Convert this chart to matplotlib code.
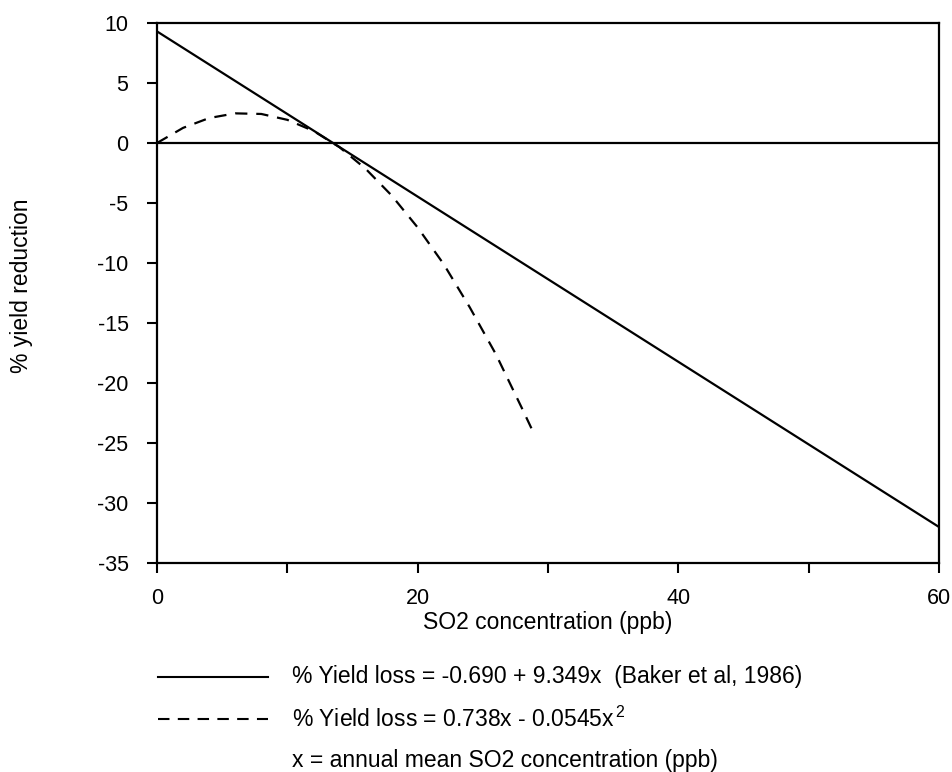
import numpy as np
import matplotlib.pyplot as plt
from matplotlib.lines import Line2D

plt.rcParams['font.family'] = ['Liberation Sans', 'DejaVu Sans']
plt.rcParams['mathtext.fontset'] = 'custom'
plt.rcParams['mathtext.rm'] = 'Liberation Sans'
plt.rcParams['axes.unicode_minus'] = False

# Baker et al (1986) linear relation, end points
x_linear = [0, 60]
y_linear = [9.3, -32.0]

# quadratic relation, points
x_quad = [0, 2, 4, 6, 8, 10, 12, 14, 16, 18, 20, 22, 24, 26, 28, 29]
y_quad = [0.0, 1.26, 2.08, 2.47, 2.42, 1.93, 1.01, -0.35, -2.14,
          -4.37, -7.04, -10.1, -13.7, -17.6, -22.1, -24.4]

xticks = [0, 20, 40, 60]
xticks_minor = [10, 30, 50]
yticks = [-35, -30, -25, -20, -15, -10, -5, 0, 5, 10]

legend_labels = ["% Yield loss = -0.690 + 9.349x  (Baker et al, 1986)",
                 "% Yield loss = 0.738x - 0.0545x$^{\\,2}$",
                 "x = annual mean SO2 concentration (ppb)"]

W, H = 952, 772
fig = plt.figure(figsize=(W / 100, H / 100), dpi=100)
ax = fig.add_axes([157 / W, 1 - 563 / H, (939 - 157) / W, (563 - 23) / H])

ax.plot(x_linear, y_linear, color='black', lw=1.6)
ax.plot(x_quad, y_quad, color='black', lw=1.6, dashes=[5.5, 4])
ax.axhline(0, color='black', lw=1.6)

ax.set_xlim(0, 60)
ax.set_ylim(-35, 10)
ax.set_xticks(xticks)
ax.set_xticks(xticks_minor, minor=True)
ax.set_yticks(yticks)
ax.tick_params(axis='both', which='both', direction='out', length=7,
               width=1.5, labelsize=15.5, pad=11)
ax.tick_params(axis='y', pad=13.5)
for s in ax.spines.values():
    s.set_linewidth(1.6)

ax.set_xlabel("SO2 concentration (ppb)", fontsize=16.5, va='center')
ax.xaxis.set_label_coords(0.5, -60 / 540)
fig.text(22 / W, 1 - 286 / H, "% yield reduction", rotation=90,
         fontsize=16.5, ha='center', va='center')

# legend block below the plot
rows = [677, 719, 760]
styles = ['-', (0, (5.5, 4)), None]
for yy, lab, st in zip(rows, legend_labels, styles):
    if st is not None:
        fig.add_artist(Line2D([158 / W, 268 / W], [1 - yy / H, 1 - yy / H],
                              color='black', lw=1.5, linestyle=st))
    fig.text(292 / W, 1 - yy / H, lab, fontsize=16.5, ha='left', va='center')

fig.savefig('out.png', dpi=100)
